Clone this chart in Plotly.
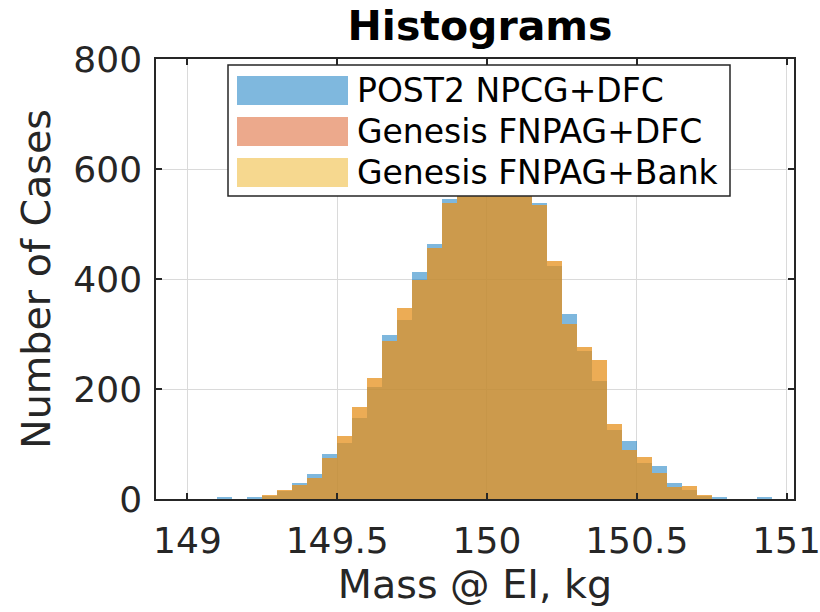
"""
Histogramas de massa na interface de entrada (EI)
"""
import numpy as np
import plotly.graph_objects as go

# bordas esquerdas dos bins (largura 0.05 kg)
bin_left = [149.10, 149.15, 149.20, 149.25, 149.30, 149.35, 149.40, 149.45,
            149.50, 149.55, 149.60, 149.65, 149.70, 149.75, 149.80, 149.85,
            149.90, 149.95, 150.00, 150.05, 150.10, 150.15, 150.20, 150.25,
            150.30, 150.35, 150.40, 150.45, 150.50, 150.55, 150.60, 150.65,
            150.70, 150.75, 150.80, 150.85, 150.90]
bin_width = 0.05

post2_dfc = [2, 0, 3, 6, 14, 30, 46, 82,
             102, 148, 203, 298, 325, 413, 463, 545,
             585, 612, 625, 610, 585, 538, 424, 336,
             269, 215, 125, 105, 66, 60, 30, 17,
             6, 2, 0, 0, 2]
genesis_dfc = [0, 0, 0, 7, 17, 26, 38, 75,
               115, 168, 220, 288, 348, 398, 457, 539,
               590, 615, 622, 618, 590, 535, 433, 319,
               276, 253, 136, 89, 77, 47, 22, 24,
               8, 0, 0, 0, 0]
genesis_bank = [0, 0, 0, 7, 17, 26, 38, 75,
                115, 168, 220, 288, 348, 398, 457, 539,
                590, 615, 622, 618, 590, 535, 433, 319,
                276, 253, 136, 89, 77, 47, 22, 24,
                8, 0, 0, 0, 0]

series_names = ["POST2 NPCG+DFC", "Genesis FNPAG+DFC", "Genesis FNPAG+Bank"]
series_counts = [post2_dfc, genesis_dfc, genesis_bank]
series_colors = ["rgb(0,114,189)", "rgb(217,83,25)", "rgb(237,177,32)"]

x_ticks = [149, 149.5, 150, 150.5, 151]
y_ticks = [0, 200, 400, 600, 800]

FONT = "DejaVu Sans"
INK = "#262626"

# área do gráfico em pixels (janela 820x612)
W, H = 820, 612
PL, PR, PT, PB = 156, 794, 59, 499

centers = np.array(bin_left) + bin_width / 2

fig = go.Figure()
for name, counts, color in zip(series_names, series_counts, series_colors):
    fig.add_trace(go.Bar(
        x=centers,
        y=counts,
        width=bin_width,
        name=name,
        marker=dict(color=color, line=dict(width=0)),
        opacity=0.5,
        showlegend=False
    ))


def px(x):
    return (x - PL) / (PR - PL)


def py(y):
    return (PB - y) / (PB - PT)


# legenda desenhada à mão (caixas largas como no MATLAB)
shapes = [dict(type="rect", xref="paper", yref="paper",
               x0=px(228), x1=px(730), y0=py(196), y1=py(65),
               fillcolor="white", line=dict(color=INK, width=1.5), layer="above")]
annotations = []
for i, (name, color) in enumerate(zip(series_names, series_colors)):
    yc = 90.5 + 41 * i
    shapes.append(dict(type="rect", xref="paper", yref="paper",
                       x0=px(237), x1=px(348), y0=py(yc + 14.5), y1=py(yc - 14.5),
                       fillcolor=color, opacity=0.5, line=dict(width=0), layer="above"))
    annotations.append(dict(xref="paper", yref="paper", x=px(355), y=py(yc),
                            xanchor="left", yanchor="middle", text=name, showarrow=False,
                            font=dict(family=FONT, size=33, color="black")))

fig.update_layout(
    width=W, height=H,
    margin=dict(l=PL, r=W - PR, t=PT, b=H - PB, autoexpand=False),
    barmode="overlay",
    bargap=0,
    plot_bgcolor="white",
    paper_bgcolor="white",
    font=dict(family=FONT, color=INK),
    title=dict(text="<b>Histograms</b>", x=480 / W, xanchor="center",
               y=1 - 25.5 / H, yanchor="middle",
               font=dict(family=FONT, size=41, color="black")),
    shapes=shapes,
    annotations=annotations,
    showlegend=False
)

fig.update_xaxes(
    range=[148.895, 151.025],
    tickvals=x_ticks,
    ticktext=[f"{v:g}" for v in x_ticks],
    tickfont=dict(size=36, color=INK),
    ticks="inside", ticklen=6, tickcolor=INK, tickwidth=1.5,
    showline=True, linecolor=INK, linewidth=1.5, mirror="ticks",
    showgrid=True, gridcolor="#dadada", gridwidth=1,
    zeroline=False,
    automargin=False,
    ticklabeloverflow="allow",
    ticklabelstandoff=9,
    title=dict(text="Mass @ EI, kg", font=dict(size=39.6, color=INK), standoff=8)
)
fig.update_yaxes(
    range=[0, 800],
    tickvals=y_ticks,
    tickfont=dict(size=36, color=INK),
    ticks="inside", ticklen=6, tickcolor=INK, tickwidth=1.5,
    showline=True, linecolor=INK, linewidth=1.5, mirror="ticks",
    showgrid=True, gridcolor="#dadada", gridwidth=1,
    zeroline=False,
    automargin=False,
    ticklabelstandoff=5,
    title=dict(text="Number of Cases", font=dict(size=39.6, color=INK), standoff=10)
)

# sem margem do body, para a figura ocupar a janela inteira
fig.write_html("out.html", config={"displayModeBar": False},
               post_script="document.body.style.margin='0';")
